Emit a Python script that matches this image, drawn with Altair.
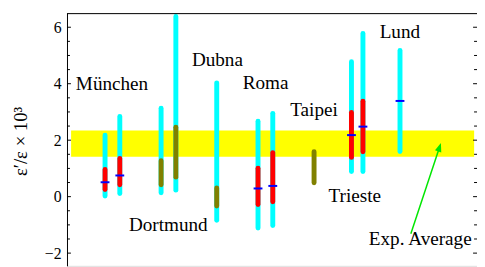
import altair as alt
import pandas as pd

# ---- data ----
cyan_x = [0.928, 1.288, 2.295, 2.655, 3.652, 4.659, 5.019, 6.938, 7.218, 8.122]
cyan_lo = [0.02, 0.11, 0.14, 0.23, -0.84, -1.11, -1.02, 0.89, 0.89, 1.60]
cyan_hi = [2.18, 2.84, 3.13, 6.38, 4.03, 2.67, 2.95, 4.78, 5.78, 5.18]

red_x = [0.928, 1.288, 4.659, 5.019, 6.938, 7.218]
red_lo = [0.25, 0.42, -0.28, -0.18, 1.39, 1.59]
red_hi = [0.96, 1.35, 1.01, 1.56, 2.98, 3.38]

olive_x = [2.295, 2.655, 3.652, 6.026]
olive_lo = [0.42, 0.69, -0.33, 0.49]
olive_hi = [1.27, 2.46, 0.31, 1.59]

central_x = [0.928, 1.288, 4.659, 5.019, 6.938, 7.218, 8.122]
central_y = [0.51, 0.75, 0.29, 0.38, 2.18, 2.48, 3.39]

band_x = [0.1, 9.93]
band_y = [1.415, 2.345]

label_text = ["München", "Dortmund", "Dubna", "Roma", "Taipei", "Trieste", "Lund", "Exp. Average"]
label_x = [0.216, 1.511, 3.046, 4.285, 5.444, 6.379, 7.626, 7.362]
label_y = [3.79, -1.20, 4.61, 3.80, 2.87, -0.19, 5.62, -1.70]

arrow_x = [8.386, 9.086]
arrow_y = [-1.314, 1.753]

major_ticks = [-2, 0, 2, 4, 6]
minor_ticks = [-1.5, -1, -0.5, 0.5, 1, 1.5, 2.5, 3, 3.5, 4.5, 5, 5.5]

# ---- layout ----
W, H = 417, 257
FONT = "Liberation Serif"

xs = alt.Scale(domain=[0, 10], nice=False, zero=False)
ys = alt.Scale(domain=[-2.45, 6.5], nice=False, zero=False)
yaxis = alt.Axis(
    values=major_ticks, ticks=False, tickSize=0, domain=True, domainColor="black",
    domainWidth=1, grid=False, labelFont=FONT, labelFontSize=16, labelColor="black",
    labelPadding=6, labelFlush=False, labelOverlap=False,
    title="ε′/ε × 10³", titleFont=FONT, titleFontSize=19, titleFontWeight="normal",
    titleColor="black", titleX=-41, titleY=130, titleAngle=270, titleAlign="center",
    titleBaseline="alphabetic",
)

def X(f):
    return alt.X(f, type="quantitative", scale=xs, axis=None)

def Y(f):
    return alt.Y(f, type="quantitative", scale=ys, axis=yaxis)

band = alt.Chart(pd.DataFrame({"x": [band_x[0]], "x2": [band_x[1]], "y": [band_y[0]], "y2": [band_y[1]]})).mark_rect(
    color="#ffff00").encode(x=X("x"), x2="x2", y=Y("y"), y2="y2")

cyan = alt.Chart(pd.DataFrame({"x": cyan_x, "lo": cyan_lo, "hi": cyan_hi})).mark_rule(
    color="#00ffff", strokeWidth=5, strokeCap="round").encode(x=X("x"), y=Y("lo"), y2="hi")

red = alt.Chart(pd.DataFrame({"x": red_x, "lo": red_lo, "hi": red_hi})).mark_rule(
    color="#ff0000", strokeWidth=5, strokeCap="round").encode(x=X("x"), y=Y("lo"), y2="hi")

olive = alt.Chart(pd.DataFrame({"x": olive_x, "lo": olive_lo, "hi": olive_hi})).mark_rule(
    color="#808000", strokeWidth=5, strokeCap="round").encode(x=X("x"), y=Y("lo"), y2="hi")

central = alt.Chart(pd.DataFrame({"x": central_x, "y": central_y})).mark_tick(
    color="#0000ff", orient="horizontal", size=9, thickness=2, opacity=1).encode(x=X("x"), y=Y("y"))

labels = alt.Chart(pd.DataFrame({"t": label_text, "x": label_x, "y": label_y})).mark_text(
    align="left", baseline="alphabetic", font=FONT, fontSize=19.5, color="black").encode(
    x=X("x"), y=Y("y"), text="t:N")

arrow = alt.Chart(pd.DataFrame({"x": arrow_x, "y": arrow_y})).mark_line(
    color="#00e600", strokeWidth=1.5).encode(x=X("x"), y=Y("y"))

head = alt.Chart(pd.DataFrame({"x": arrow_x[-1:], "y": arrow_y[-1:]})).mark_point(
    shape="M0,-1L-0.75,1L0.75,1Z", size=81, filled=True, color="#00e600", opacity=1,
    angle=18.3, strokeWidth=0).encode(x=X("x"), y=Y("y"))

one = pd.DataFrame({"a": [0]})
top = alt.Chart(one).mark_rule(color="black", strokeWidth=1).encode(
    x=alt.value(0), x2=alt.value(W), y=alt.value(0.5))

maj = pd.DataFrame({"t": major_ticks})
mnr = pd.DataFrame({"t": minor_ticks})
tick_layers = []
for df, L in ((maj, 4), (mnr, 3)):
    tick_layers.append(alt.Chart(df).mark_rule(color="black", strokeWidth=1).encode(
        y=Y("t"), x=alt.value(0), x2=alt.value(L)))
    tick_layers.append(alt.Chart(df).mark_rule(color="black", strokeWidth=1).encode(
        y=Y("t"), x=alt.value(W - L), x2=alt.value(W)))

chart = alt.layer(band, cyan, red, olive, central, labels, arrow, head, top, *tick_layers).properties(
    width=W, height=H,
    autosize=alt.AutoSizeParams(type="none"),
    padding={"left": 60, "top": 3, "right": 0, "bottom": 0},
).configure_view(stroke=None).configure_axis(
    labelFont=FONT, titleFont=FONT, labelFontSize=16, titleFontSize=19, labelColor="black"
).configure(font=FONT)

chart.save("out.html", embed_options={"renderer": "svg", "actions": False})
